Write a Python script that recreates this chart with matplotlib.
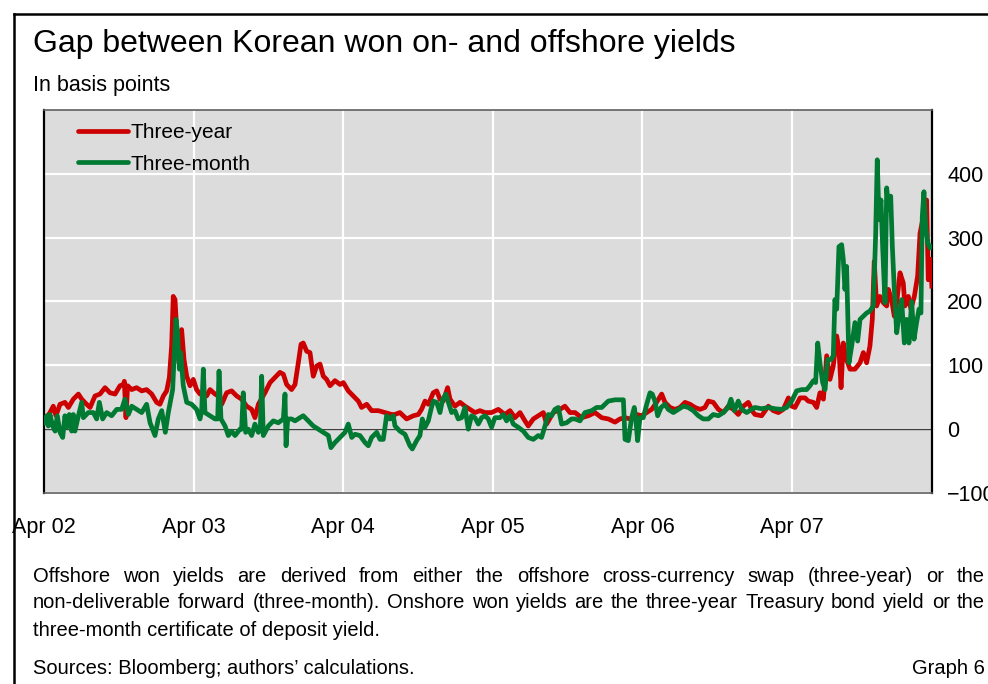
import matplotlib
matplotlib.use("Agg")
import matplotlib.pyplot as plt
from matplotlib.lines import Line2D

plt.rcParams["font.family"] = ["Liberation Sans", "DejaVu Sans"]

# time in decimal years, gap in basis points
three_year_t = [
    2002.250, 2002.268, 2002.290, 2002.312, 2002.330, 2002.357, 2002.390, 2002.413, 2002.446, 2002.480,
    2002.502, 2002.535, 2002.558, 2002.591, 2002.624, 2002.658, 2002.691, 2002.725, 2002.758, 2002.780,
    2002.787, 2002.798, 2002.809, 2002.836, 2002.869, 2002.903, 2002.936, 2002.970, 2003.003, 2003.025,
    2003.048, 2003.070, 2003.088, 2003.103, 2003.114, 2003.126, 2003.137, 2003.152, 2003.170, 2003.186,
    2003.204, 2003.226, 2003.248, 2003.270, 2003.293, 2003.315, 2003.337, 2003.360, 2003.393, 2003.415,
    2003.438, 2003.471, 2003.504, 2003.538, 2003.571, 2003.605, 2003.638, 2003.660, 2003.683, 2003.727,
    2003.761, 2003.794, 2003.827, 2003.850, 2003.872, 2003.905, 2003.928, 2003.950, 2003.968, 2003.983,
    2004.006, 2004.028, 2004.050, 2004.073, 2004.095, 2004.117, 2004.139, 2004.162, 2004.195, 2004.229,
    2004.251, 2004.284, 2004.318, 2004.351, 2004.373, 2004.407, 2004.440, 2004.485, 2004.529, 2004.574,
    2004.596, 2004.629, 2004.674, 2004.719, 2004.752, 2004.774, 2004.797, 2004.819, 2004.852, 2004.875,
    2004.897, 2004.919, 2004.948, 2004.964, 2004.997, 2005.031, 2005.064, 2005.097, 2005.131, 2005.164,
    2005.198, 2005.242, 2005.287, 2005.331, 2005.365, 2005.398, 2005.432, 2005.465, 2005.487, 2005.521,
    2005.554, 2005.588, 2005.610, 2005.654, 2005.699, 2005.732, 2005.766, 2005.800, 2005.844, 2005.889,
    2005.933, 2005.978, 2006.022, 2006.067, 2006.100, 2006.134, 2006.167, 2006.212, 2006.245, 2006.279,
    2006.312, 2006.345, 2006.379, 2006.401, 2006.435, 2006.468, 2006.501, 2006.535, 2006.568, 2006.602,
    2006.635, 2006.668, 2006.691, 2006.724, 2006.758, 2006.791, 2006.824, 2006.858, 2006.891, 2006.925,
    2006.958, 2006.992, 2007.003, 2007.047, 2007.092, 2007.125, 2007.159, 2007.192, 2007.226, 2007.248,
    2007.270, 2007.304, 2007.337, 2007.359, 2007.393, 2007.415, 2007.437, 2007.460, 2007.482, 2007.504,
    2007.526, 2007.549, 2007.564, 2007.578, 2007.593, 2007.615, 2007.638, 2007.671, 2007.705, 2007.727,
    2007.749, 2007.771, 2007.787, 2007.800, 2007.816, 2007.838, 2007.861, 2007.883, 2007.894, 2007.916,
    2007.934, 2007.950, 2007.972, 2007.994, 2008.005, 2008.028, 2008.045, 2008.068, 2008.090, 2008.106,
    2008.128, 2008.150, 2008.161, 2008.177, 2008.185,
]
three_year_bp = [
    13, 18, 26, 36, 21, 39, 42, 34, 47, 55,
    47, 39, 34, 52, 55, 65, 57, 55, 68, 70,
    75, 18, 68, 62, 65, 60, 62, 55, 42, 39,
    52, 60, 81, 130, 208, 203, 156, 104, 156, 109,
    83, 68, 78, 62, 55, 57, 52, 62, 55, 52,
    39, 57, 60, 52, 47, 36, 31, 18, 39, 57,
    73, 81, 89, 86, 70, 62, 70, 104, 133, 135,
    122, 120, 83, 99, 102, 83, 78, 68, 76, 70,
    73, 60, 52, 44, 34, 39, 29, 29, 26, 23,
    23, 26, 16, 21, 23, 31, 44, 39, 57, 60,
    47, 44, 65, 47, 36, 42, 36, 31, 26, 29,
    26, 26, 31, 23, 29, 18, 26, 13, 5, 16,
    21, 26, 8, 26, 31, 36, 26, 26, 18, 21,
    26, 18, 16, 11, 16, 18, 16, 23, 21, 26,
    31, 42, 55, 42, 34, 31, 34, 42, 39, 34,
    31, 34, 44, 42, 31, 26, 36, 31, 23, 36,
    42, 26, 23, 21, 36, 29, 26, 31, 49, 36,
    34, 49, 49, 44, 42, 34, 57, 47, 115, 78,
    99, 146, 125, 65, 135, 109, 94, 94, 104, 120,
    104, 130, 172, 263, 193, 208, 198, 193, 219, 203,
    177, 198, 245, 229, 193, 208, 188, 208, 240, 307,
    333, 359, 234, 266, 224,
]

three_month_t = [
    2002.250, 2002.268, 2002.279, 2002.290, 2002.308, 2002.324, 2002.339, 2002.357, 2002.375, 2002.390,
    2002.402, 2002.419, 2002.435, 2002.446, 2002.457, 2002.480, 2002.502, 2002.513, 2002.546, 2002.580,
    2002.602, 2002.620, 2002.642, 2002.669, 2002.702, 2002.736, 2002.769, 2002.791, 2002.814, 2002.836,
    2002.869, 2002.903, 2002.936, 2002.959, 2002.992, 2003.014, 2003.037, 2003.061, 2003.081, 2003.110,
    2003.121, 2003.132, 2003.143, 2003.155, 2003.164, 2003.181, 2003.204, 2003.237, 2003.270, 2003.293,
    2003.304, 2003.315, 2003.326, 2003.360, 2003.393, 2003.411, 2003.420, 2003.433, 2003.460, 2003.482,
    2003.504, 2003.527, 2003.560, 2003.571, 2003.582, 2003.598, 2003.616, 2003.638, 2003.660, 2003.683,
    2003.696, 2003.705, 2003.716, 2003.750, 2003.783, 2003.816, 2003.850, 2003.861, 2003.868, 2003.879,
    2003.905, 2003.928, 2003.961, 2003.983, 2004.017, 2004.050, 2004.084, 2004.117, 2004.151, 2004.168,
    2004.195, 2004.229, 2004.262, 2004.284, 2004.307, 2004.329, 2004.362, 2004.396, 2004.418, 2004.440,
    2004.474, 2004.496, 2004.518, 2004.540, 2004.563, 2004.585, 2004.596, 2004.629, 2004.663, 2004.696,
    2004.712, 2004.741, 2004.763, 2004.779, 2004.797, 2004.819, 2004.837, 2004.852, 2004.875, 2004.897,
    2004.915, 2004.937, 2004.953, 2004.975, 2004.997, 2005.019, 2005.042, 2005.064, 2005.086, 2005.108,
    2005.131, 2005.153, 2005.175, 2005.198, 2005.220, 2005.242, 2005.264, 2005.298, 2005.320, 2005.342,
    2005.365, 2005.387, 2005.420, 2005.454, 2005.487, 2005.521, 2005.554, 2005.576, 2005.599, 2005.621,
    2005.643, 2005.665, 2005.688, 2005.710, 2005.743, 2005.777, 2005.800, 2005.833, 2005.866, 2005.911,
    2005.944, 2005.978, 2006.022, 2006.067, 2006.123, 2006.134, 2006.156, 2006.178, 2006.196, 2006.207,
    2006.218, 2006.234, 2006.256, 2006.279, 2006.301, 2006.316, 2006.334, 2006.352, 2006.375, 2006.401,
    2006.423, 2006.457, 2006.490, 2006.524, 2006.557, 2006.590, 2006.624, 2006.657, 2006.691, 2006.724,
    2006.758, 2006.791, 2006.824, 2006.842, 2006.865, 2006.891, 2006.914, 2006.947, 2006.980, 2007.003,
    2007.047, 2007.092, 2007.136, 2007.181, 2007.214, 2007.248, 2007.281, 2007.315, 2007.348, 2007.370,
    2007.393, 2007.408, 2007.422, 2007.437, 2007.455, 2007.471, 2007.488, 2007.511, 2007.526, 2007.537,
    2007.549, 2007.564, 2007.582, 2007.593, 2007.604, 2007.615, 2007.631, 2007.649, 2007.671, 2007.689,
    2007.705, 2007.727, 2007.749, 2007.771, 2007.794, 2007.809, 2007.820, 2007.832, 2007.845, 2007.856,
    2007.872, 2007.883, 2007.898, 2007.910, 2007.921, 2007.934, 2007.950, 2007.965, 2007.983, 2008.001,
    2008.016, 2008.032, 2008.050, 2008.066, 2008.083, 2008.099, 2008.112, 2008.121, 2008.132, 2008.144,
    2008.157, 2008.172, 2008.185,
]
three_month_bp = [
    10, 21, 5, 23, 5, -3, 21, -5, -13, 21,
    3, 23, -3, 23, -3, 21, 42, 18, 26, 26,
    16, 42, 16, 26, 21, 31, 31, 47, 23, 36,
    31, 26, 39, 10, -10, 16, 29, -5, 26, 62,
    120, 172, 151, 94, 120, 68, 42, 39, 31, 16,
    29, 94, 26, 21, 16, 16, 91, 16, 5, -10,
    -3, -10, 0, 0, 57, -5, 0, -10, 8, -5,
    0, 83, -10, 5, 13, 10, 16, 55, -26, 16,
    16, 13, 18, 21, 13, 5, 0, -5, -10, -29,
    -21, -13, -5, 8, -13, -8, -10, -21, -26, -13,
    -5, -16, -16, 21, 16, 21, 5, -3, -8, -26,
    -31, -18, -10, 16, 3, 13, 31, 44, 42, 26,
    47, 55, 42, 26, 29, 16, 18, 34, 0, 21,
    18, 8, 18, 21, 16, 3, 18, 18, 23, 13,
    21, 8, 3, -3, -13, -16, -10, -13, 5, 23,
    21, 31, 34, 8, 10, 16, 16, 13, 26, 29,
    34, 34, 44, 46, 46, -16, -18, 18, 34, 13,
    -18, 18, 18, 39, 57, 55, 44, 21, 34, 39,
    31, 26, 31, 36, 34, 29, 21, 16, 16, 23,
    21, 26, 34, 47, 29, 44, 31, 26, 31, 34,
    32, 34, 32, 31, 34, 44, 60, 62, 62, 68,
    76, 73, 135, 104, 73, 62, 109, 109, 115, 203,
    188, 286, 289, 266, 219, 255, 104, 130, 167, 138,
    172, 177, 182, 185, 193, 302, 422, 328, 359, 286,
    198, 378, 344, 365, 286, 219, 151, 177, 203, 135,
    172, 135, 200, 141, 167, 188, 182, 333, 372, 318,
    292, 284, 286,
]

tick_years = [2002.25, 2003.25, 2004.25, 2005.25, 2006.25, 2007.25]
tick_labels = ["Apr 02", "Apr 03", "Apr 04", "Apr 05", "Apr 06", "Apr 07"]
y_ticks = [-100, 0, 100, 200, 300, 400]
y_labels = ["\u2212100", "0", "100", "200", "300", "400"]

title = "Gap between Korean won on- and offshore yields"
subtitle = "In basis points"
note_lines = [
    "Offshore won yields are derived from either the offshore cross-currency swap (three-year) or the",
    "non-deliverable forward (three-month). Onshore won yields are the three-year Treasury bond yield or the",
]
note_last = "three-month certificate of deposit yield."
source = "Sources: Bloomberg; authors\u2019 calculations."
graph_no = "Graph 6"

RED = "#cc0000"
GREEN = "#007a33"

W, H = 988, 684
fig = plt.figure(figsize=(W / 100, H / 100), dpi=100)
ax = fig.add_axes([44 / W, 1 - 493 / H, 888 / W, 383 / H])
ax.set_facecolor("#dcdcdc")

ax.plot(three_year_t, three_year_bp, color=RED, lw=3.4, label="Three-year", zorder=3)
ax.plot(three_month_t, three_month_bp, color=GREEN, lw=3.4, label="Three-month", zorder=4)
ax.axhline(0, color="#404040", lw=1.0, zorder=2)

ax.set_xlim(2002.25, 2008.186)
ax.set_ylim(-100, 500)
ax.set_xticks(tick_years)
ax.set_xticklabels(tick_labels)
ax.yaxis.tick_right()
ax.set_yticks(y_ticks)
ax.set_yticklabels(y_labels)
ax.tick_params(axis="both", length=0, labelsize=15.5, colors="black")
ax.tick_params(axis="x", pad=17)
ax.tick_params(axis="y", pad=11)
ax.grid(True, color="white", lw=1.6, zorder=1)
ax.set_axisbelow(True)

for side in ["left", "right"]:
    ax.spines[side].set_color("black")
    ax.spines[side].set_linewidth(1.6)
for side in ["top", "bottom"]:
    ax.spines[side].set_color("#606060")
    ax.spines[side].set_linewidth(1.2)

leg = ax.legend(loc="upper left", bbox_to_anchor=(0.038, 0.966), frameon=False,
                fontsize=15, handlelength=2.4, handletextpad=0.15, labelspacing=0.6,
                borderpad=0, borderaxespad=0)
for h in leg.get_lines():
    h.set_linewidth(3.4)
    h.set_solid_capstyle("round")

fig.text(33 / W, 1 - 44 / H, title, fontsize=23, va="center", ha="left")
fig.text(33 / W, 1 - 86 / H, subtitle, fontsize=15.5, va="center", ha="left")

# justified note lines
renderer = fig.canvas.get_renderer()
x_left, x_right = 33, 985
for line, ypix in zip(note_lines, [577, 602]):
    words = line.split()
    texts = [fig.text(0, 1 - ypix / H, w, fontsize=14.5, va="center", ha="left") for w in words]
    widths = [t.get_window_extent(renderer).width for t in texts]
    gap = ((x_right - x_left) - sum(widths)) / (len(words) - 1)
    x = x_left
    for t, w in zip(texts, widths):
        t.set_x(x / W)
        x += w + gap
fig.text(x_left / W, 1 - 630 / H, note_last, fontsize=14.5, va="center", ha="left")
fig.text(x_left / W, 1 - 669 / H, source, fontsize=14.5, va="center", ha="left")
fig.text(x_right / W, 1 - 669 / H, graph_no, fontsize=14.5, va="center", ha="right")

# outer frame (top and left edges)
fig.add_artist(Line2D([14 / W, 14 / W], [0, 1 - 14 / H], color="black", lw=1.8))
fig.add_artist(Line2D([14 / W, 1], [1 - 14 / H, 1 - 14 / H], color="black", lw=1.8))

fig.savefig("out.png", dpi=100)
